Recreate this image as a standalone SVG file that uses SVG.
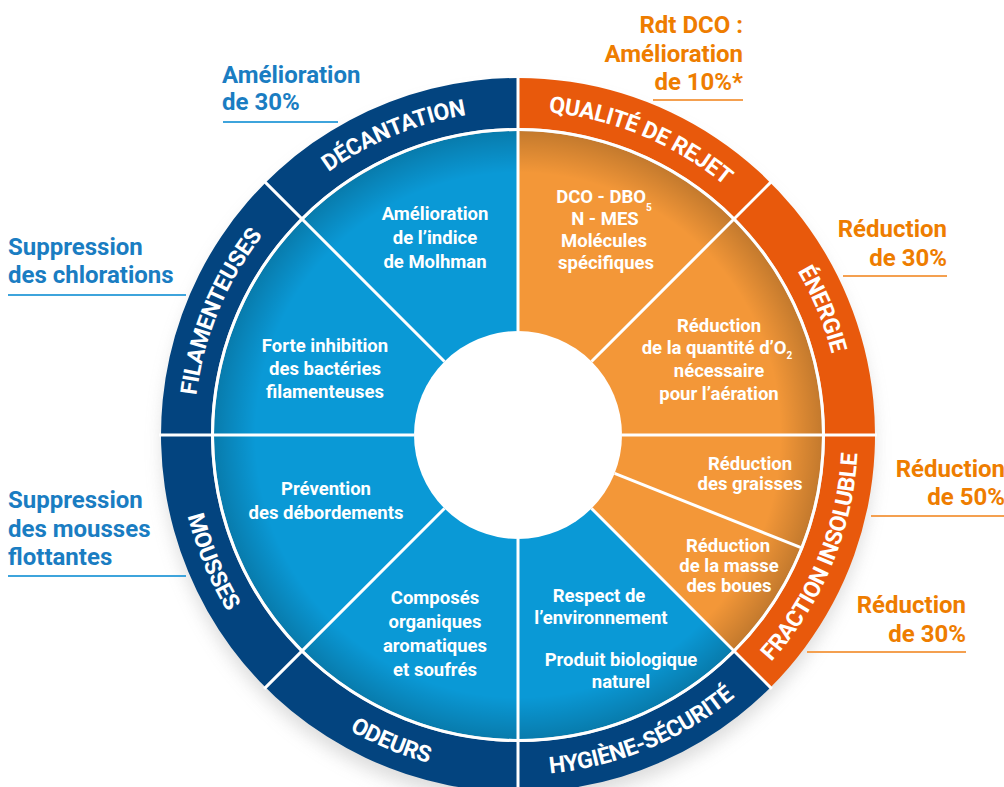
<svg xmlns="http://www.w3.org/2000/svg" width="1004" height="787" viewBox="0 0 1004 787">
<style>
.ring{fill:#fff;font-family:Roboto,"Liberation Sans",sans-serif;font-weight:bold;font-size:23px;letter-spacing:-0.4px}
.in{fill:#fff;font-family:Roboto,"Liberation Sans",sans-serif;font-weight:bold;font-size:18.5px;text-anchor:middle}
.sub{font-size:10px}
.ext{font-family:Roboto,"Liberation Sans",sans-serif;font-weight:bold;font-size:24px}
.eb{fill:#1a7dc2}
.eo{fill:#ee7d00}
.ulb{stroke:#3ea4dc;stroke-width:2}
.ulo{stroke:#f4a050;stroke-width:2}
.div{stroke:#fff;stroke-width:3;fill:none}
</style>
<defs>
<radialGradient id="rim" gradientUnits="userSpaceOnUse" cx="518" cy="435" r="305">
<stop offset="0.86" stop-color="#000" stop-opacity="0"/>
<stop offset="1" stop-color="#000" stop-opacity="0.2"/>
</radialGradient>
<filter id="blur" x="-20%" y="-20%" width="140%" height="140%"><feGaussianBlur stdDeviation="9"/></filter>
<path id="pDec" d="M288.9,205.9 A324,324 0 0 1 518,111"/>
<path id="pQua" d="M518,111 A324,324 0 0 1 747.1,205.9"/>
<path id="pEne" d="M747.1,205.9 A324,324 0 0 1 842,435"/>
<path id="pFil" d="M194,435 A324,324 0 0 1 288.9,205.9"/>
<path id="pFra" d="M758.42,675.42 A340,340 0 0 0 858,435"/>
<path id="pHyg" d="M518,775 A340,340 0 0 0 758.42,675.42"/>
<path id="pOde" d="M277.58,675.42 A340,340 0 0 0 518,775"/>
<path id="pMou" d="M178,435 A340,340 0 0 0 277.58,675.42"/>
</defs>
<rect width="1004" height="787" fill="#fff"/>
<circle cx="518" cy="447" r="355" fill="#9a9a9a" opacity="0.35" filter="url(#blur)"/>

<g id="wheel">
<path d="M518,78 A357,357 0 0 1 770.44,687.44 L735.08,652.08 A307,307 0 0 0 518,128 Z" fill="#e8590c"/>
<path d="M770.44,687.44 A357,357 0 1 1 518,78 L518,128 A307,307 0 1 0 735.08,652.08 Z" fill="#03447f"/>
<path d="M518,435 L518,131 A304,304 0 0 1 732.96,649.96 Z" fill="#f39738"/>
<path d="M518,435 L732.96,649.96 A304,304 0 1 1 518,131 Z" fill="#0a99d6"/>
<circle cx="518" cy="435" r="304" fill="url(#rim)"/>
<circle cx="518" cy="435" r="305.5" class="div"/>
<circle cx="518" cy="435" r="104" fill="#fff"/>
</g>

<g id="connectors">
<line class="div" x1="518" y1="331" x2="518" y2="76"/>
<line class="div" x1="518" y1="539" x2="518" y2="794"/>
<line class="div" x1="414" y1="435" x2="159" y2="435"/>
<line class="div" x1="622" y1="435" x2="877" y2="435"/>
<line class="div" x1="444.46" y1="361.46" x2="264.15" y2="181.15"/>
<line class="div" x1="591.54" y1="361.46" x2="771.85" y2="181.15"/>
<line class="div" x1="444.46" y1="508.54" x2="264.15" y2="688.85"/>
<line class="div" x1="591.54" y1="508.54" x2="771.85" y2="688.85"/>
<line class="div" x1="614.63" y1="473.45" x2="802.31" y2="548.14"/>
</g>

<g id="ring-labels">
<text class="ring"><textPath href="#pDec" startOffset="50%" text-anchor="middle">DÉCANTATION</textPath></text>
<text class="ring"><textPath href="#pQua" startOffset="50%" text-anchor="middle">QUALITÉ DE REJET</textPath></text>
<text class="ring"><textPath href="#pEne" startOffset="50%" text-anchor="middle">ÉNERGIE</textPath></text>
<text class="ring"><textPath href="#pFra" startOffset="50%" text-anchor="middle">FRACTION INSOLUBLE</textPath></text>
<text class="ring"><textPath href="#pHyg" startOffset="50%" text-anchor="middle">HYGIÈNE-SÉCURITÉ</textPath></text>
<text class="ring"><textPath href="#pOde" startOffset="50%" text-anchor="middle">ODEURS</textPath></text>
<text class="ring"><textPath href="#pMou" startOffset="50%" text-anchor="middle">MOUSSES</textPath></text>
<text class="ring"><textPath href="#pFil" startOffset="50%" text-anchor="middle">FILAMENTEUSES</textPath></text>
</g>

<g id="node-molhman">
<text class="in" x="435" y="220">Amélioration</text>
<text class="in" x="435" y="244">de l’indice</text>
<text class="in" x="435" y="268">de Molhman</text>
</g>
<g id="node-dco">
<text class="in" x="604" y="203">DCO - DBO<tspan class="sub" dy="8">5</tspan></text>
<text class="in" x="605" y="225">N - MES</text>
<text class="in" x="604" y="247">Molécules</text>
<text class="in" x="606" y="269">spécifiques</text>
</g>
<g id="node-o2">
<text class="in" x="719" y="332">Réduction</text>
<text class="in" x="717" y="354">de la quantité d’O<tspan class="sub" dy="5">2</tspan></text>
<text class="in" x="719" y="377">nécessaire</text>
<text class="in" x="719" y="400">pour l’aération</text>
</g>
<g id="node-graisses">
<text class="in" x="750" y="470">Réduction</text>
<text class="in" x="750" y="490">des graisses</text>
</g>
<g id="node-boues">
<text class="in" x="728" y="552">Réduction</text>
<text class="in" x="729" y="572">de la masse</text>
<text class="in" x="729" y="592">des boues</text>
</g>
<g id="node-respect">
<text class="in" x="599" y="602">Respect de</text>
<text class="in" x="601" y="624">l’environnement</text>
<text class="in" x="621" y="666">Produit biologique</text>
<text class="in" x="621" y="688">naturel</text>
</g>
<g id="node-composes">
<text class="in" x="435" y="604">Composés</text>
<text class="in" x="435" y="628">organiques</text>
<text class="in" x="435" y="652">aromatiques</text>
<text class="in" x="435" y="676">et soufrés</text>
</g>
<g id="node-prevention">
<text class="in" x="326" y="495">Prévention</text>
<text class="in" x="326" y="519">des débordements</text>
</g>
<g id="node-forte">
<text class="in" x="325" y="352">Forte inhibition</text>
<text class="in" x="325" y="375">des bactéries</text>
<text class="in" x="325" y="398">filamenteuses</text>
</g>

<g id="label-decantation">
<text class="ext eb" x="222" y="83">Amélioration</text>
<text class="ext eb" x="222" y="110">de 30%</text>
<line class="ulb" x1="223" y1="122" x2="338" y2="122"/>
</g>
<g id="label-qualite">
<text class="ext eo" x="743" y="33" text-anchor="end">Rdt DCO :</text>
<text class="ext eo" x="743" y="62" text-anchor="end">Amélioration</text>
<text class="ext eo" x="743" y="90" text-anchor="end">de 10%*</text>
<line class="ulo" x1="653" y1="100" x2="743" y2="100"/>
</g>
<g id="label-energie">
<text class="ext eo" x="947" y="237" text-anchor="end">Réduction</text>
<text class="ext eo" x="947" y="266" text-anchor="end">de 30%</text>
<line class="ulo" x1="843" y1="276" x2="947" y2="276"/>
</g>
<g id="label-fraction1">
<text class="ext eo" x="1005" y="477" text-anchor="end">Réduction</text>
<text class="ext eo" x="1005" y="505" text-anchor="end">de 50%</text>
<line class="ulo" x1="871" y1="516" x2="1004" y2="516"/>
</g>
<g id="label-fraction2">
<text class="ext eo" x="966" y="613" text-anchor="end">Réduction</text>
<text class="ext eo" x="966" y="642" text-anchor="end">de 30%</text>
<line class="ulo" x1="807" y1="652" x2="966" y2="652"/>
</g>
<g id="label-filamenteuses">
<text class="ext eb" x="8" y="255">Suppression</text>
<text class="ext eb" x="8" y="283">des chlorations</text>
<line class="ulb" x1="8" y1="295" x2="186" y2="295"/>
</g>
<g id="label-mousses">
<text class="ext eb" x="8" y="508">Suppression</text>
<text class="ext eb" x="8" y="537">des mousses</text>
<text class="ext eb" x="8" y="565">flottantes</text>
<line class="ulb" x1="8" y1="576" x2="186" y2="576"/>
</g>
</svg>
